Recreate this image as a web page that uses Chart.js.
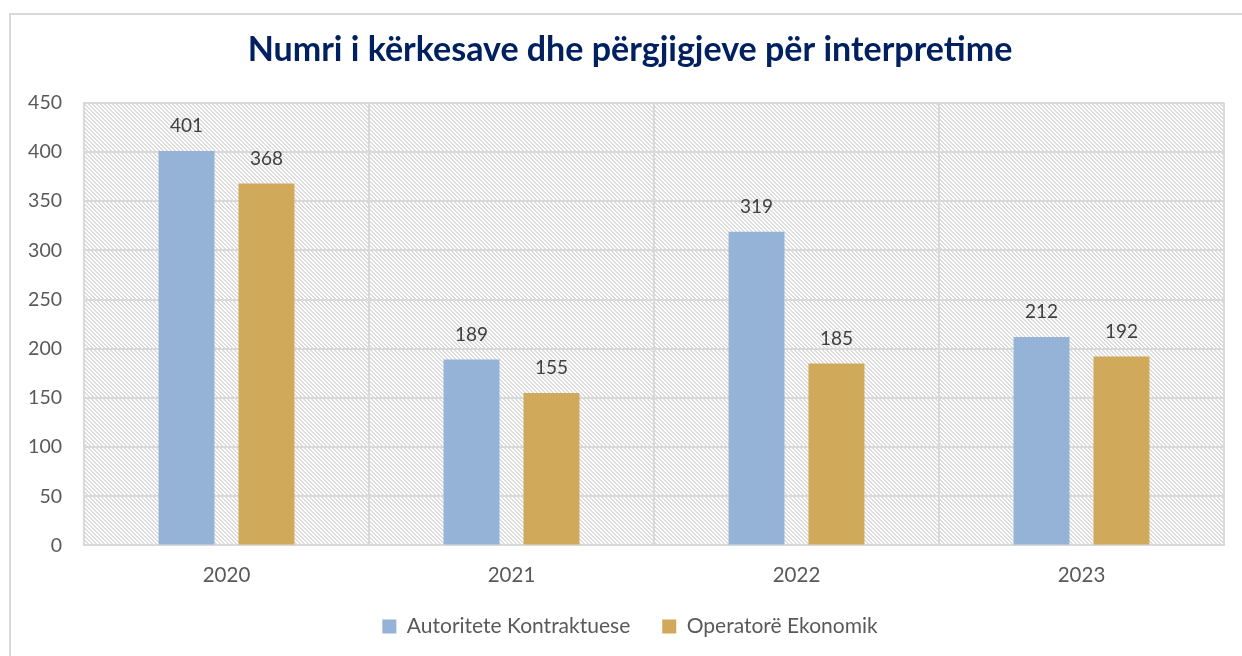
<!DOCTYPE html>
<html>
<head>
<meta charset="utf-8">
<script src="https://cdn.jsdelivr.net/npm/chart.js@4.4.1/dist/chart.umd.min.js"></script>
<style>
  html, body { margin: 0; padding: 0; background: #ffffff; }
  body { width: 1242px; height: 656px; position: relative; overflow: hidden; }
  #frame { position: absolute; left: 9px; top: 13px; width: 1400px; height: 800px; border: 2px solid #d9d9d9; box-sizing: border-box; }
  #c { position: absolute; left: 0; top: 0; }
</style>
</head>
<body>
<div id="frame"></div>
<canvas id="c" width="1242" height="656"></canvas>
<script>
const categories = ['2020', '2021', '2022', '2023'];
const seriesNames = ['Autoritete Kontraktuese', 'Operatorë Ekonomik'];
const autoritete = [401, 189, 319, 212];
const operatore = [368, 155, 185, 192];
const yTicks = [0, 50, 100, 150, 200, 250, 300, 350, 400, 450];
const titleText = 'Numri i kërkesave dhe përgjigjeve për interpretime';

const FONT = "Lato, 'Open Sans', sans-serif";

function makePattern() {
  const p = document.createElement('canvas');
  p.width = 8; p.height = 8;
  const g = p.getContext('2d');
  g.fillStyle = '#ffffff';
  g.fillRect(0, 0, 8, 8);
  g.fillStyle = '#dcdcdc';
  for (let y = 0; y < 8; y++) {
    for (let x = 0; x < 8; x++) {
      if (((x - y) % 4 + 4) % 4 === 0 && (x + y) % 2 === 0) g.fillRect(x, y, 1, 1);
      if (((x - y - 1) % 4 + 4) % 4 === 0 && (x + y) % 2 === 1) g.fillRect(x, y, 1, 1);
    }
  }
  return p;
}

const bgPlugin = {
  id: 'plotBg',
  beforeDraw(chart) {
    const { ctx, chartArea } = chart;
    const pat = ctx.createPattern(makePattern(), 'repeat');
    ctx.save();
    ctx.fillStyle = pat;
    ctx.fillRect(chartArea.left, chartArea.top, chartArea.right - chartArea.left, chartArea.bottom - chartArea.top);
    ctx.restore();
  }
};

const labelPlugin = {
  id: 'valueLabels',
  afterDatasetsDraw(chart) {
    const { ctx } = chart;
    ctx.save();
    ctx.font = '19px ' + FONT;
    ctx.fillStyle = '#404040';
    ctx.textAlign = 'center';
    ctx.textBaseline = 'middle';
    chart.data.datasets.forEach((ds, i) => {
      const meta = chart.getDatasetMeta(i);
      meta.data.forEach((bar, j) => {
        ctx.fillText(String(ds.data[j]), bar.x, bar.y - 25);
      });
    });
    ctx.restore();
  }
};

new Chart(document.getElementById('c'), {
  type: 'bar',
  data: {
    labels: categories,
    datasets: [
      { label: seriesNames[0], data: autoritete, backgroundColor: '#95B3D7' },
      { label: seriesNames[1], data: operatore, backgroundColor: '#D0A95A' }
    ]
  },
  options: {
    responsive: false,
    animation: false,
    devicePixelRatio: 1,
    categoryPercentage: 0.561,
    barPercentage: 0.7,
    layout: { padding: { left: 18, right: 0, top: 0, bottom: 10 } },
    plugins: {
      title: {
        display: true,
        text: titleText,
        color: '#002060',
        font: { family: FONT, size: 34, weight: 'bold' },
        padding: { top: 30, bottom: 32 }
      },
      legend: {
        position: 'bottom',
        maxHeight: 62,
        labels: {
          color: '#595959',
          font: { family: FONT, size: 21 },
          boxWidth: 14,
          boxHeight: 14,
          padding: 32
        }
      },
      tooltip: { enabled: false }
    },
    scales: {
      x: {
        grid: { color: '#d9d9d9', lineWidth: 2, offset: true, drawTicks: false },
        border: { color: '#d9d9d9', width: 2 },
        ticks: { color: '#595959', font: { family: FONT, size: 20.5 }, padding: 18 },
        afterFit(scale) { scale.height = scale.height - 22; }
      },
      y: {
        min: 0,
        max: 450,
        afterBuildTicks(scale) { scale.ticks = yTicks.map(v => ({ value: v })); },
        afterFit(scale) { scale.width = 66; },
        grid: { color: '#d9d9d9', lineWidth: 2, drawTicks: false },
        border: { color: '#d9d9d9', width: 2 },
        ticks: { color: '#595959', font: { family: FONT, size: 19.5 }, padding: 22 }
      },
      yRight: {
        position: 'right',
        display: true,
        grid: { display: false, drawTicks: false },
        border: { display: false },
        ticks: { display: false },
        afterFit(scale) { scale.width = 18; }
      }
    }
  },
  plugins: [bgPlugin, labelPlugin]
});
</script>
</body>
</html>
